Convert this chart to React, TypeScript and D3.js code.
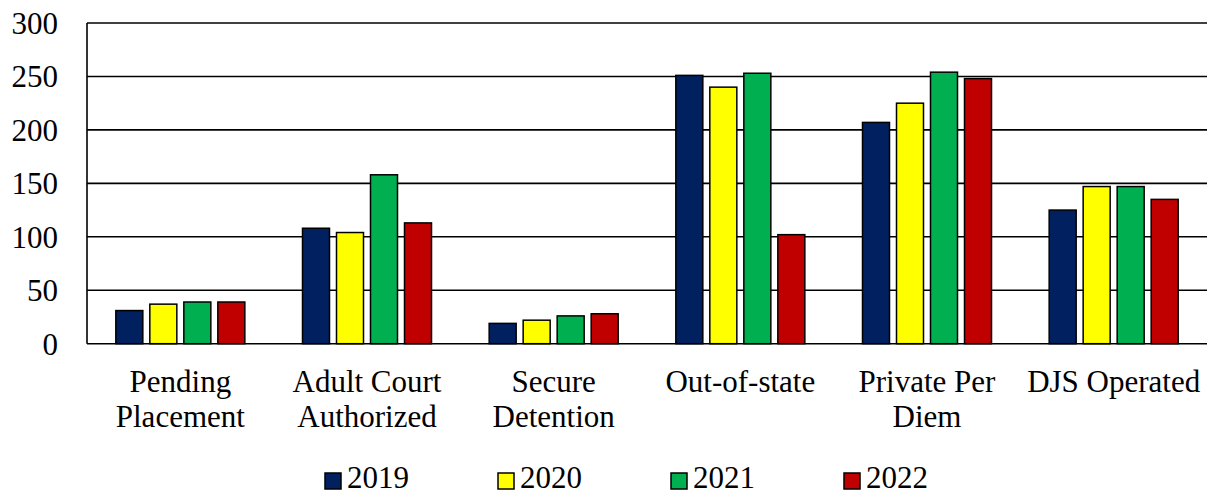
import React from "react";
import * as d3 from "d3";

const categories = [
  ["Pending", "Placement"],
  ["Adult Court", "Authorized"],
  ["Secure", "Detention"],
  ["Out-of-state"],
  ["Private Per", "Diem"],
  ["DJS Operated"],
];
const seriesNames = ["2019", "2020", "2021", "2022"];
const seriesColors = ["#002060", "#FFFF00", "#00B050", "#C00000"];
const values2019 = [31, 108, 19, 251, 207, 125];
const values2020 = [37, 104, 22, 240, 225, 147];
const values2021 = [39, 158, 26, 253, 254, 147];
const values2022 = [39, 113, 28, 102, 248, 135];
const yTicks = [0, 50, 100, 150, 200, 250, 300];

const W = 1217;
const H = 492;
const plotLeft = 87;
const plotRight = 1207;
const plotTop = 23;
const plotBottom = 343.7;
const font = "'Liberation Serif', 'Times New Roman', serif";
const textStyle = { fontFamily: font, fontSize: "31px" };

export default function App() {
  const seriesValues = [values2019, values2020, values2021, values2022];
  const catIdx = categories.map((_, i) => String(i));
  const x0 = d3.scaleBand<string>().domain(catIdx).range([plotLeft, plotRight]).padding(0);
  const groupWidth = 129;
  const x1 = d3
    .scaleBand<string>()
    .domain(seriesNames)
    .range([0, groupWidth])
    .paddingInner(0.206)
    .paddingOuter(0);
  const y = d3.scaleLinear().domain([0, 300]).range([plotBottom, plotTop]);
  const offset = (x0.bandwidth() - groupWidth) / 2;
  const legendX = d3.scalePoint<string>().domain(seriesNames).range([325, 844]);

  return (
    <svg
      width={W}
      height={H}
      style={{ position: "absolute", left: 0, top: 0, background: "#fff" }}
    >
      {yTicks.map((t) => (
        <g key={t}>
          <line x1={plotLeft} x2={plotRight} y1={y(t)} y2={y(t)} stroke="#000" strokeWidth={1.6} />
          <text x={58} y={y(t)} dy="0.35em" textAnchor="end" style={textStyle} fill="#000">
            {t}
          </text>
        </g>
      ))}
      <line x1={plotLeft} x2={plotLeft} y1={plotTop} y2={plotBottom} stroke="#000" strokeWidth={1.6} />
      {catIdx.map((c, ci) => (
        <g key={c}>
          {seriesNames.map((s, si) => {
            const v = seriesValues[si][ci];
            const bx = (x0(c) as number) + offset + (x1(s) as number);
            return (
              <rect
                key={s}
                x={bx}
                y={y(v)}
                width={x1.bandwidth()}
                height={y(0) - y(v)}
                fill={seriesColors[si]}
                stroke="#000"
                strokeWidth={1.5}
              />
            );
          })}
          <text
            x={(x0(c) as number) + x0.bandwidth() / 2}
            textAnchor="middle"
            style={textStyle}
            fill="#000"
          >
            {categories[ci].map((line, li) => (
              <tspan key={li} x={(x0(c) as number) + x0.bandwidth() / 2} y={392 + li * 35}>
                {line}
              </tspan>
            ))}
          </text>
        </g>
      ))}
      {seriesNames.map((s, si) => {
        const lx = legendX(s) as number;
        return (
          <g key={s}>
            <rect x={lx} y={473} width={16} height={16} fill={seriesColors[si]} stroke="#000" strokeWidth={1.5} />
            <text x={lx + 22} y={488} style={textStyle} fill="#000">
              {s}
            </text>
          </g>
        );
      })}
    </svg>
  );
}
